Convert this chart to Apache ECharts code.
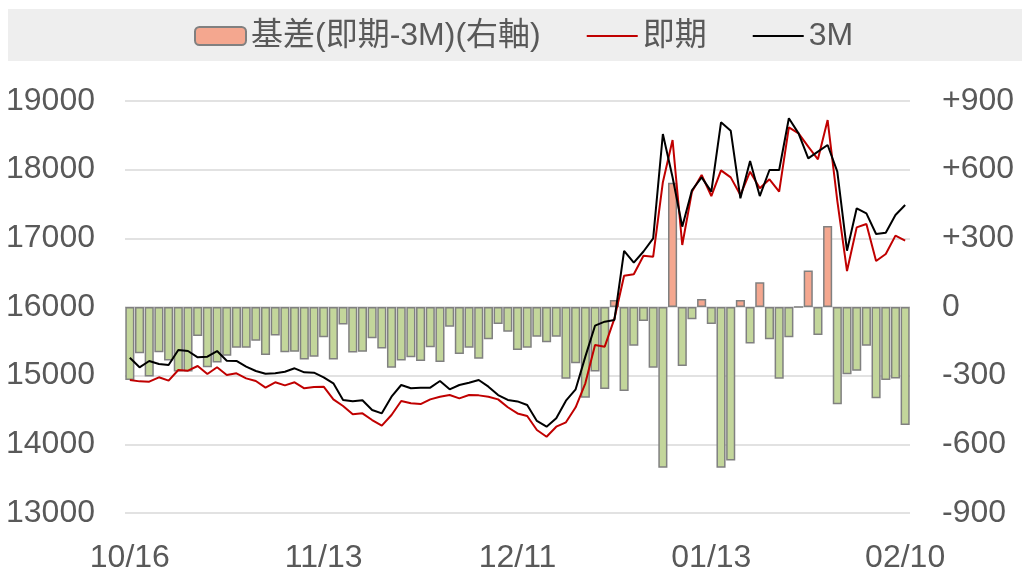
<!DOCTYPE html>
<html>
<head>
<meta charset="utf-8">
<script src="https://cdn.jsdelivr.net/npm/echarts@6/dist/echarts.min.js"></script>
<style>html,body{margin:0;padding:0;background:#fff;}#c{width:1022px;height:569px;}</style>
</head>
<body>
<div id="c"></div>
<script>
const categories = [
 '10/16','10/17','10/20','10/21','10/22','10/23','10/24','10/27','10/28','10/29','10/30','10/31',
 '11/03','11/04','11/05','11/06','11/07','11/10','11/11','11/12','11/13','11/14',
 '11/17','11/18','11/19','11/20','11/21','11/24','11/25','11/26','11/27','11/28',
 '12/01','12/02','12/03','12/04','12/05','12/08','12/09','12/10','12/11','12/12',
 '12/15','12/16','12/17','12/18','12/19','12/22','12/23','12/24','12/29','12/30','12/31',
 '01/02','01/05','01/06','01/07','01/08','01/09','01/12','01/13','01/14','01/15','01/16',
 '01/19','01/20','01/21','01/22','01/23','01/26','01/27','01/28','01/29','01/30',
 '02/02','02/03','02/04','02/05','02/06','02/09','02/10'
];
const basis = [
 -319,-202,-304,-198,-234,-282,-282,-127,-263,-243,-213,-178,-178,-147,-210,-125,-198,-196,-229,-217,
 -132,-229,-76,-199,-196,-137,-181,-265,-234,-220,-236,-176,-240,-86,-205,-178,-226,-141,-74,-108,
 -188,-178,-130,-154,-130,-313,-246,-397,-282,-358,31,-367,-169,-61,-265,-702,543,-258,-54,35,
 -74,-702,-671,31,-159,108,-141,-313,-132,0,160,-122,354,-425,-294,-279,-169,-399,-319,-312,-515
];
const spot = [
 14937,14917,14912,14976,14927,15083,15073,15141,15024,15122,15010,15034,14961,14922,14825,14903,14859,14903,14816,14835,
 14840,14655,14558,14437,14451,14354,14272,14427,14631,14597,14587,14655,14694,14718,14670,14718,14713,14694,14655,14540,
 14450,14413,14209,14111,14257,14321,14540,14888,15447,15422,15830,16456,16476,16747,16733,17817,18432,16903,17680,17922,
 17616,17990,17888,17631,17971,17728,17859,17680,18617,18529,18335,18151,18723,17546,16524,17160,17209,16670,16772,17039,16966
];
const m3 = [
 15262,15122,15214,15170,15155,15374,15359,15267,15277,15359,15218,15214,15131,15068,15029,15034,15058,15107,15048,15043,
 14976,14888,14646,14626,14641,14500,14451,14694,14864,14816,14825,14825,14922,14801,14864,14898,14937,14840,14718,14646,
 14625,14573,14340,14257,14379,14636,14801,15277,15728,15786,15811,16816,16645,16808,17000,18519,17889,17170,17700,17888,
 17680,18690,18568,17583,18126,17616,17995,17995,18748,18529,18165,18262,18359,17971,16820,17437,17364,17063,17082,17340,17485
];
const leftTicks = {min: 13000, max: 19000, interval: 1000};
const rightTicks = {min: -900, max: 900, interval: 300};
const seriesNames = ['基差(即期-3M)(右軸)', '即期', '3M'];

const FONT = '"Liberation Sans", Arial, "Noto Sans CJK TC", sans-serif';
const POS = '#F4A78F', NEG = '#C3D69B';
const LINE_ICON = 'path://M0,0 M51,18 M0,8 L51,8 L51,10 L0,10 Z';
const chart = echarts.init(document.getElementById('c'));
chart.setOption({
  animation: false,
  textStyle: {fontFamily: FONT},
  graphic: [{type: 'rect', shape: {x: 8, y: 9, width: 1014, height: 52}, style: {fill: '#EEEEEE'}, z: -10, silent: true}],
  legend: {
    data: [
      {name: seriesNames[0]},
      {name: seriesNames[1], icon: LINE_ICON},
      {name: seriesNames[2], icon: LINE_ICON}
    ],
    left: 194, top: 20, padding: 0,
    itemWidth: 51, itemHeight: 18, itemGap: 46,
    textStyle: {fontSize: 32, color: '#595959', fontFamily: FONT}
  },
  grid: {left: 125, right: 112, top: 101, bottom: 56, outerBoundsMode: 'none', containLabel: false},
  xAxis: {
    type: 'category', data: categories, boundaryGap: true,
    axisLine: {show: false}, axisTick: {show: false},
    axisLabel: {interval: 19, fontSize: 32, color: '#595959', margin: 29, fontFamily: FONT}
  },
  yAxis: [
    {type: 'value', min: leftTicks.min, max: leftTicks.max, interval: leftTicks.interval,
     axisLine: {show: false}, axisTick: {show: false},
     axisLabel: {fontSize: 32, color: '#595959', margin: 30, fontFamily: FONT, formatter: v => String(v)},
     splitLine: {lineStyle: {color: '#D9D9D9', width: 1.5}}},
    {type: 'value', min: rightTicks.min, max: rightTicks.max, interval: rightTicks.interval,
     axisLine: {show: false}, axisTick: {show: false},
     axisLabel: {fontSize: 32, color: '#595959', margin: 32, fontFamily: FONT,
       formatter: v => v > 0 ? '+' + v : String(v)},
     splitLine: {show: false}}
  ],
  series: [
    {name: seriesNames[0], type: 'bar', yAxisIndex: 1, barCategoryGap: '6%',
     itemStyle: {color: POS, borderColor: '#808080', borderWidth: 1.5},
     data: basis.map(v => v < 0 ? {value: v, itemStyle: {color: NEG}} : v), z: 1},
    {name: seriesNames[1], type: 'line', yAxisIndex: 0, data: spot, symbol: 'none',
     lineStyle: {color: '#C00000', width: 2}, itemStyle: {color: '#C00000'}, z: 3},
    {name: seriesNames[2], type: 'line', yAxisIndex: 0, data: m3, symbol: 'none',
     lineStyle: {color: '#000000', width: 2}, itemStyle: {color: '#000000'}, z: 4}
  ]
});
</script>
</body>
</html>
